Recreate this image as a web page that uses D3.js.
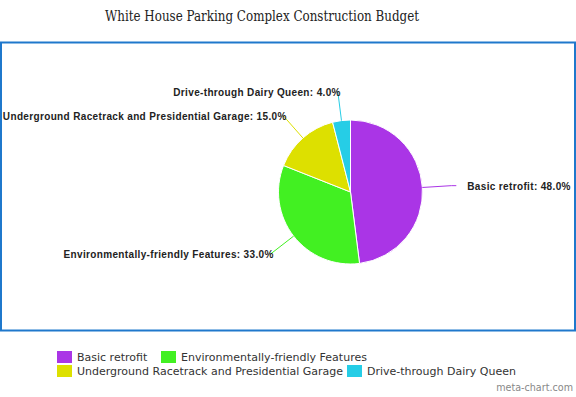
<!DOCTYPE html>
<html>
<head>
<meta charset="utf-8" />
<title>White House Parking Complex Construction Budget</title>
<style>
  body { margin: 0; background: #fff; }
  .slice-label { font-family: "Liberation Sans", Arial, sans-serif; font-weight: bold; font-size: 10px; letter-spacing: 0.35px; fill: #222; }
  .legend-text { font-family: "DejaVu Sans", sans-serif; font-size: 11px; fill: #333; }
</style>
</head>
<body>
<script src="https://d3js.org/d3.v7.min.js"></script>
<script>
var width = 576, height = 397;

// data
var categories = ["Basic retrofit", "Environmentally-friendly Features", "Underground Racetrack and Presidential Garage", "Drive-through Dairy Queen"];
var values = [48.0, 33.0, 15.0, 4.0];
var colors = ["#aa35e6", "#42f022", "#dde000", "#26cde6"];

var data = categories.map(function(c, i) { return {name: c, value: values[i], color: colors[i]}; });

var svg = d3.select("body").append("svg")
    .attr("width", width)
    .attr("height", height);

svg.append("text")
    .attr("x", 262)
    .attr("y", 21)
    .attr("text-anchor", "middle")
    .attr("textLength", 314)
    .attr("lengthAdjust", "spacingAndGlyphs")
    .style("font-family", "'DejaVu Serif', serif")
    .style("font-size", "14.5px")
    .style("fill", "#222")
    .text("White House Parking Complex Construction Budget");

// plot box
svg.append("rect")
    .attr("x", 1).attr("y", 42.5)
    .attr("width", 574).attr("height", 288)
    .attr("fill", "none")
    .attr("stroke", "#1f78cc")
    .attr("stroke-width", 2);

var cx = 350.5, cy = 192, r = 72;

var pie = d3.pie().sort(null).value(function(d) { return d.value; });
var arc = d3.arc().innerRadius(0).outerRadius(r);
var arcs = pie(data);

var g = svg.append("g").attr("transform", "translate(" + cx + "," + cy + ")");

g.selectAll("path.slice")
    .data(arcs)
  .enter().append("path")
    .attr("class", "slice")
    .attr("d", arc)
    .attr("fill", function(d) { return d.data.color; })
    .attr("stroke", "#fff")
    .attr("stroke-width", 1);

function mid(d) { return (d.startAngle + d.endAngle) / 2; }
function pt(a, rad) { return [rad * Math.sin(a), -rad * Math.cos(a)]; }

// connector lines
g.selectAll("path.conn")
    .data(arcs)
  .enter().append("path")
    .attr("class", "conn")
    .attr("fill", "none")
    .attr("stroke", function(d) { return d.data.color; })
    .attr("stroke-width", 1)
    .attr("d", function(d) {
      var a = mid(d), p0 = pt(a, r), p1 = pt(a, r + 29);
      var right = Math.sin(a) > 0;
      return "M" + p0 + "L" + p1 + "L" + [p1[0] + (right ? 5 : -1), p1[1]];
    });

g.selectAll("text.slice-label")
    .data(arcs)
  .enter().append("text")
    .attr("class", "slice-label")
    .attr("text-anchor", function(d) { return Math.sin(mid(d)) > 0 ? "start" : "end"; })
    .attr("x", function(d) {
      var p = pt(mid(d), r + 29);
      return Math.sin(mid(d)) > 0 ? p[0] + 16 : p[0] + 3;
    })
    .attr("y", function(d) { return pt(mid(d), r + 29)[1] + 4; })
    .text(function(d) { return d.data.name + ": " + d.data.value.toFixed(1) + "%"; });

// legend
var legendPos = [[57, 351], [161, 351], [57, 365], [347, 365]];
var lg = svg.selectAll("g.legend")
    .data(data)
  .enter().append("g")
    .attr("class", "legend")
    .attr("transform", function(d, i) { return "translate(" + legendPos[i][0] + "," + legendPos[i][1] + ")"; });

lg.append("rect")
    .attr("width", 15).attr("height", 12)
    .attr("fill", function(d) { return d.color; });

lg.append("text")
    .attr("class", "legend-text")
    .attr("x", 20)
    .attr("y", 10)
    .text(function(d) { return d.name; });

svg.append("text")
    .attr("x", 573)
    .attr("y", 391)
    .attr("text-anchor", "end")
    .style("font-family", "'DejaVu Sans', sans-serif")
    .style("font-size", "9.6px")
    .style("fill", "#888")
    .text("meta-chart.com");
</script>
</body>
</html>
